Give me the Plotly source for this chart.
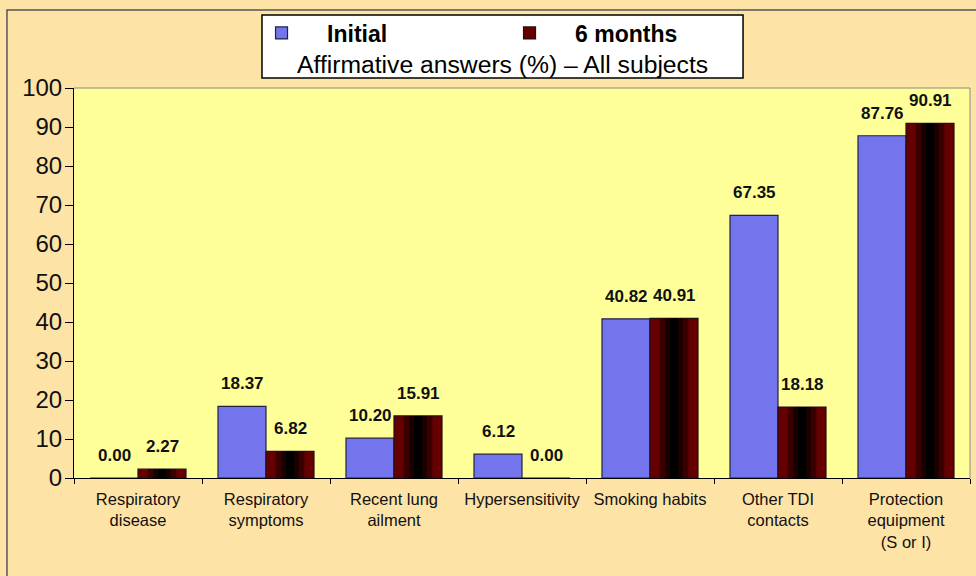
import plotly.graph_objects as go

categories = ["Respiratory<br>disease", "Respiratory<br>symptoms", "Recent lung<br>ailment",
              "Hypersensitivity", "Smoking habits", "Other TDI<br>contacts",
              "Protection<br>equipment<br>(S or I)"]
initial = [0.00, 18.37, 10.20, 6.12, 40.82, 67.35, 87.76]
six_months = [2.27, 6.82, 15.91, 0.00, 40.91, 18.18, 90.91]
y_ticks = [0, 10, 20, 30, 40, 50, 60, 70, 80, 90, 100]
series_names = ["Initial", "6 months"]
subtitle = "Affirmative answers (%) \u2013 All subjects"

FONT = "Arial, Liberation Sans, sans-serif"
W = 0.375

fig = go.Figure()
fig.add_trace(go.Bar(x=categories, y=initial, name="\u00a0\u00a0\u00a0\u00a0" + series_names[0],
                     width=W, offset=-W,
                     marker=dict(color="#7474EC", line=dict(color="#222244", width=1.2)),
                     legendrank=1))
fig.add_trace(go.Bar(x=categories, y=six_months, name="\u00a0\u00a0\u00a0\u00a0" + series_names[1],
                     width=W, offset=0,
                     marker=dict(color="#660000", line=dict(color="#221111", width=1.2)),
                     legendrank=2))
# darker centre bands of the 6-month bars (horizontal gradient look)
for frac, col in [(0.6, "#3a0000"), (0.36, "#160000"), (0.16, "#000000")]:
    fig.add_trace(go.Bar(x=categories, y=six_months, width=W * frac, offset=W * (1 - frac) / 2,
                         marker=dict(color=col, line=dict(width=0)), showlegend=False,
                         hoverinfo="skip"))

LBL = dict(family=FONT, size=17, color="#111111", weight="bold")
annotations = []
for c, v in zip(categories, initial):
    annotations.append(dict(x=c, y=v, xref="x", yref="y", text=f"{v:.2f}", showarrow=False,
                            xshift=-24, yshift=11, yanchor="bottom", font=LBL))
for c, v in zip(categories, six_months):
    annotations.append(dict(x=c, y=v, xref="x", yref="y", text=f"{v:.2f}", showarrow=False,
                            xshift=24, yshift=11, yanchor="bottom", font=LBL))
annotations.append(dict(x=0.4782, y=1.0615, xref="paper", yref="paper", text=subtitle,
                        showarrow=False, xanchor="center", yanchor="middle",
                        font=dict(family=FONT, size=24.7, color="#000000")))

shapes = [
    # outer frame
    dict(type="rect", xref="paper", yref="paper", x0=-0.0748, x1=1.02, y0=-0.3, y1=1.2,
         line=dict(color="#555555", width=1.5), fillcolor="rgba(0,0,0,0)", layer="above"),
    # legend box
    dict(type="rect", xref="paper", yref="paper", x0=0.2098, x1=0.7467, y0=1.0256, y1=1.1872,
         line=dict(color="#000000", width=1.5), fillcolor="#FFFFFF", layer="above"),
    # plot frame top/right
    dict(type="line", xref="paper", yref="paper", x0=0, x1=1, y0=1, y1=1,
         line=dict(color="#8a8a8a", width=1), layer="above"),
    dict(type="line", xref="paper", yref="paper", x0=1, x1=1, y0=0, y1=1,
         line=dict(color="#8a8a8a", width=1), layer="above"),
]

fig.update_layout(
    width=976, height=576,
    margin=dict(l=74, r=6, t=88, b=98, autoexpand=False),
    paper_bgcolor="#FEE3A6",
    plot_bgcolor="#FFFF99",
    barmode="overlay",
    font=dict(family=FONT, color="#000000"),
    showlegend=True,
    legend=dict(orientation="h", x=0.2093, xanchor="left", y=0.9427, yanchor="middle",
                yref="container",
                bgcolor="rgba(0,0,0,0)", borderwidth=0,
                font=dict(family=FONT, size=23, color="#000000", weight="bold"),
                entrywidth=203, entrywidthmode="pixels", itemclick=False),
    annotations=annotations,
    shapes=shapes,
    xaxis=dict(type="category", showgrid=False, showline=True, linecolor="#000000", linewidth=1,
               ticks="outside", tickson="boundaries", ticklen=5, tickcolor="#000000",
               automargin=False, ticklabelstandoff=6,
               tickfont=dict(family=FONT, size=16.5, color="#111111"), tickangle=0),
    yaxis=dict(range=[0, 100], tickvals=y_ticks, showgrid=False, zeroline=False,
               showline=True, linecolor="#000000", linewidth=1, automargin=False,
               ticks="outside", ticklen=8, tickcolor="#000000", ticklabelstandoff=-2,
               tickfont=dict(family=FONT, size=24, color="#111111")),
)

fig.write_html("out.html", config={"displayModeBar": False},
               post_script="document.body.style.margin='0px';document.body.style.overflow='hidden';")
